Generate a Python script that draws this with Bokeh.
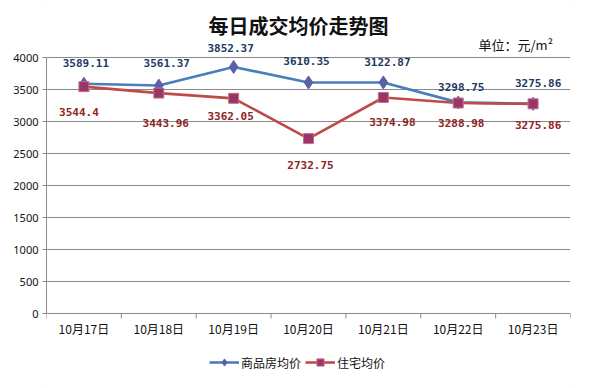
import numpy as np
from bokeh.plotting import figure
from bokeh.models import (Range1d, FixedTicker, Legend, LegendItem, ColumnDataSource)
from bokeh.core.properties import value
from bokeh.embed import file_html
from bokeh.resources import INLINE

# ---- data ----
dates = ["10月17日", "10月18日", "10月19日", "10月20日", "10月21日", "10月22日", "10月23日"]
commercial = [3589.11, 3561.37, 3852.37, 3610.35, 3610.35, 3298.75, 3275.86]
commercial_labels = ["3589.11", "3561.37", "3852.37", "3610.35", "3122.87", "3298.75", "3275.86"]
residential = [3544.4, 3443.96, 3362.05, 2732.75, 3374.98, 3288.98, 3275.86]
residential_labels = ["3544.4", "3443.96", "3362.05", "2732.75", "3374.98", "3288.98", "3275.86"]
y_ticks = [0, 500, 1000, 1500, 2000, 2500, 3000, 3500, 4000]
title_text = "每日成交均价走势图"
unit_text = "单位：元/m²"
series_names = ["商品房均价", "住宅均价"]

# ---- styling ----
W, H = 600, 388
BL, BR = 46, 30
ZERO_Y = 313            # screen y of value 0
px_per_unit = 256.0 / 4000.0
y_top = ZERO_Y / px_per_unit
y_bot = -(H - ZERO_Y) / px_per_unit
n = len(dates)
xs = np.arange(n) + 0.5
x_per_px = n / (W - BL - BR)

BLUE_LINE = "#4A7EBB"
BLUE_MARK = "#5A5FA8"
RED_LINE = "#BE4B48"
RED_MARK = "#9B3566"
BLUE_TXT = "#1F3A64"
RED_TXT = "#8E2424"
GRID = "#8A8A8A"

p = figure(width=W, height=H, output_backend="svg", toolbar_location=None,
           x_range=Range1d(0, n), y_range=Range1d(y_bot, y_top), x_axis_location=None,
           min_border_left=BL, min_border_right=BR, min_border_top=0, min_border_bottom=0)
p.outline_line_color = None
p.background_fill_color = "white"
p.border_fill_color = "white"
p.styles = {"outline": "1px solid #8c8c8c", "outline-offset": "-3px"}

# y axis
p.yaxis.ticker = FixedTicker(ticks=y_ticks)
p.yaxis.bounds = (0, 4000)
p.yaxis.axis_line_color = GRID
p.yaxis.major_tick_line_color = GRID
p.yaxis.major_tick_out = 4
p.yaxis.major_tick_in = 0
p.yaxis.minor_tick_line_color = None
p.yaxis.major_label_text_font = "Noto Sans"
p.yaxis.major_label_text_font_size = "11px"
p.yaxis.major_label_text_color = "#111111"
p.yaxis.major_label_standoff = 4

p.xgrid.grid_line_color = None
p.ygrid.grid_line_color = GRID
p.ygrid.grid_line_width = 1

# category axis drawn at value 0
p.segment(x0=[0], y0=[0], x1=[n], y1=[0], line_color=GRID, line_width=1)
seps = list(range(n + 1))
p.segment(x0=seps, y0=[0] * len(seps), x1=seps, y1=[-5 / px_per_unit] * len(seps),
          line_color=GRID, line_width=1)
p.text(x=list(xs), y=[-15 / px_per_unit] * n, text=dates, text_align="center",
       text_baseline="middle", text_font=value("Noto Sans CJK SC"),
       text_font_size="12px", text_color="#111111")

# series
l1 = p.line(xs, commercial, line_color=BLUE_LINE, line_width=2.6)
m1 = p.scatter(xs, commercial, marker="diamond", size=13, fill_color=BLUE_MARK, line_color=BLUE_MARK)
l2 = p.line(xs, residential, line_color=RED_LINE, line_width=2.6)
m2 = p.scatter(xs, residential, marker="square", size=10, fill_color=RED_MARK, line_color="#C07090")

# data labels (pixel offsets from each point)
blue_dx = [2, 8, -3, -2, 4, 3, 5]
blue_dy = [-21, -23, -19, -21, -20, -15, -21]
red_dx = [-5, 7, -3, 2, 9, 3, 5]
red_dy = [25, 30, 18, 26, 24, 20, 21]

for vals, labs, dx, dy, col in ((commercial, commercial_labels, blue_dx, blue_dy, BLUE_TXT),
                                (residential, residential_labels, red_dx, red_dy, RED_TXT)):
    src = ColumnDataSource(dict(x=list(xs + np.array(dx) * x_per_px),
                                y=[v - o / px_per_unit for v, o in zip(vals, dy)],
                                t=labs))
    p.text(x="x", y="y", text="t", source=src, text_align="center", text_baseline="middle",
           text_font=value("DejaVu Sans Mono"), text_font_style="bold",
           text_font_size="11px", text_color=col)

# title and unit
p.text(x=[(298 - BL) * x_per_px], y=[y_top - 25 / px_per_unit], text=[title_text],
       text_align="center", text_baseline="middle",
       text_font=value("Noto Sans CJK SC"), text_font_style="bold",
       text_font_size="20px", text_color="#111111")
p.text(x=[(478 - BL) * x_per_px], y=[y_top - 44 / px_per_unit], text=[unit_text],
       text_align="left", text_baseline="middle",
       text_font=value("Noto Sans CJK SC"),
       text_font_size="13px", text_color="#111111")

legend = Legend(items=[LegendItem(label=series_names[0], renderers=[l1, m1]),
                       LegendItem(label=series_names[1], renderers=[l2, m2])],
                location=(163, 17), orientation="horizontal")
legend.padding = 0
legend.margin = 0
legend.spacing = 4
legend.glyph_width = 30
legend.glyph_height = 18
legend.label_height = 18
legend.label_standoff = 2
legend.background_fill_alpha = 0
legend.border_line_color = None
legend.label_text_font = "Noto Sans CJK SC"
legend.label_text_font_size = "12px"
legend.label_text_color = "#111111"
p.add_layout(legend, "center")

open("out.html", "w").write(file_html(p, INLINE))
